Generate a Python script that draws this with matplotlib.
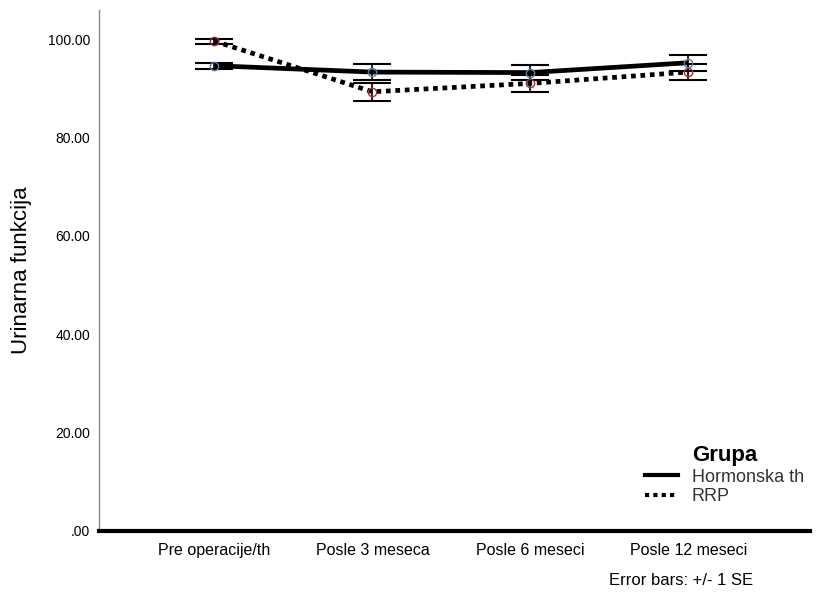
import numpy as np
import matplotlib
matplotlib.use('Agg')
import matplotlib.pyplot as plt
from matplotlib.lines import Line2D

plt.rcParams['font.family'] = ['Liberation Sans', 'DejaVu Sans']

# data
categories = ['Pre operacije/th', 'Posle 3 meseca', 'Posle 6 meseci', 'Posle 12 meseci']
hormonska_mean = [94.6, 93.3, 93.2, 95.2]
hormonska_se = [0.6, 1.7, 1.5, 1.6]
rrp_mean = [99.6, 89.3, 91.0, 93.3]
rrp_se = [0.5, 1.8, 1.8, 1.6]
yticks = [0, 20, 40, 60, 80, 100]
ytick_labels = ['.00', '20.00', '40.00', '60.00', '80.00', '100.00']


def main():
    fig = plt.figure(figsize=(8.19, 5.95), dpi=100)
    ax = fig.add_axes([0.121, 0.1076, 0.868, 0.8754])
    x = np.arange(len(categories))

    # error bars first, lines on top
    ax.errorbar(x, hormonska_mean, yerr=hormonska_se, fmt='none', ecolor='black',
                elinewidth=1.2, capsize=13.7, capthick=1.5, zorder=2)
    ax.errorbar(x, rrp_mean, yerr=rrp_se, fmt='none', ecolor='black',
                elinewidth=1.2, capsize=13.7, capthick=1.5, zorder=2)

    ax.plot(x, hormonska_mean, color='black', lw=3.4, solid_capstyle='butt', zorder=3)
    ax.plot(x, rrp_mean, color='black', lw=3.4, linestyle=(0, (1, 1)), zorder=3)

    # small mean markers
    ax.plot(x, hormonska_mean, 'o', ms=6, mfc='none', mec='#5b7fa6', mew=1.0, zorder=4)
    ax.plot(x, rrp_mean, 'o', ms=6, mfc='none', mec='#a0303a', mew=1.0, zorder=4)

    ax.set_xlim(-0.73, 3.77)
    ax.set_ylim(0, 105.9)
    ax.set_xticks(x)
    ax.set_xticklabels(categories, fontsize=11.5)
    ax.set_yticks(yticks)
    ax.set_yticklabels(ytick_labels, fontsize=10)
    ax.tick_params(axis='x', length=0, pad=9)
    ax.tick_params(axis='y', length=0, pad=6.5)

    ax.spines['top'].set_visible(False)
    ax.spines['right'].set_visible(False)
    ax.spines['left'].set_color('#888888')
    ax.spines['left'].set_linewidth(1.0)
    ax.spines['bottom'].set_color('black')
    ax.spines['bottom'].set_linewidth(3)

    ax.set_ylabel('Urinarna funkcija', fontsize=16, labelpad=11)

    handles = [Line2D([0], [0], color='black', lw=3),
               Line2D([0], [0], color='black', lw=3, linestyle=(0, (1, 1)))]
    leg = ax.legend(handles, ['Hormonska th', 'RRP'], title='Grupa', loc='upper left',
                    bbox_to_anchor=(645 / 819, 1 - 445 / 595), bbox_transform=fig.transFigure,
                    borderaxespad=0, borderpad=0, frameon=False, fontsize=13,
                    handlelength=1.85, handletextpad=0.75, labelspacing=0.15)
    leg.get_title().set_fontweight('bold')
    leg.get_title().set_fontsize(16)
    for t in leg.get_texts():
        t.set_color('#333333')

    fig.text(0.744, 0.025, 'Error bars: +/- 1 SE', fontsize=12, ha='left', va='center')

    fig.savefig('out.png', dpi=100)


if __name__ == '__main__':
    main()
